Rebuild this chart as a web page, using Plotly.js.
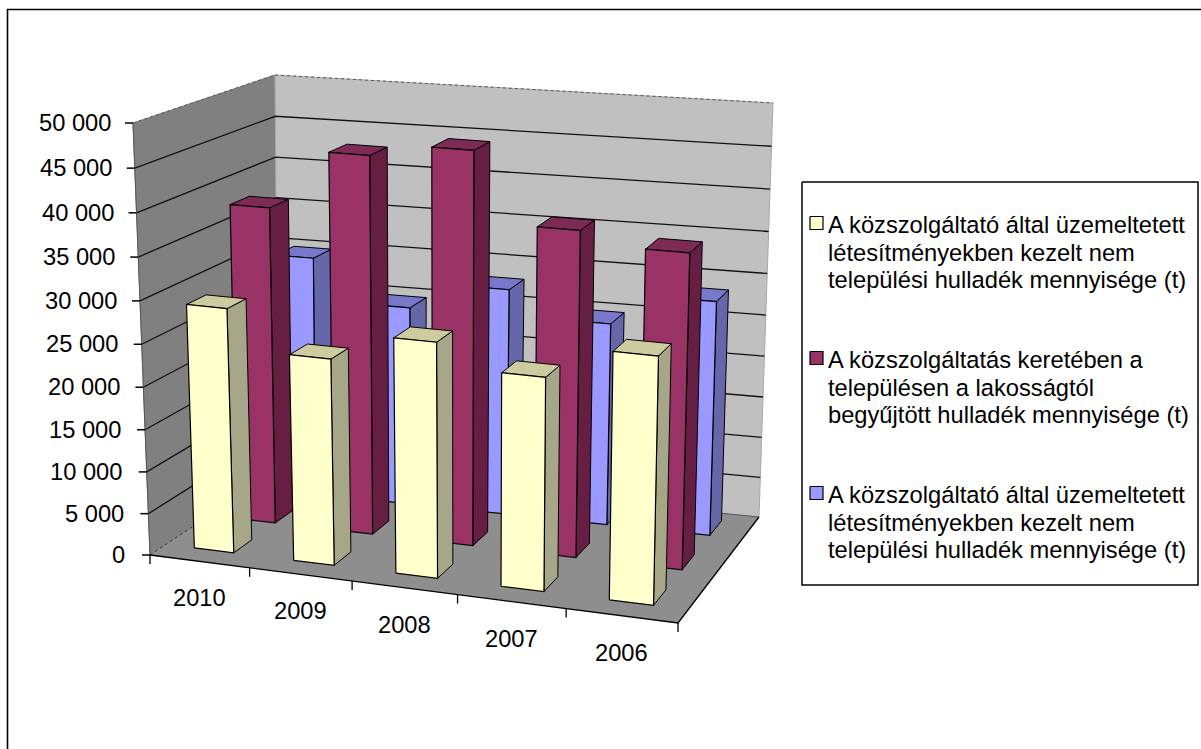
<!DOCTYPE html>
<html><head><meta charset="utf-8">
<script src="https://cdn.plot.ly/plotly-3.0.1.min.js"></script>
<style>html,body{margin:0;padding:0;background:#fff}#c{width:1201px;height:749px}</style>
</head><body><div id="c"></div>
<script>
// ---- data ----
const categories = ['2010','2009','2008','2007','2006'];
const seriesYellow = [29000,24400,27600,24900,28600];
const seriesRed    = [38200,45200,46700,38600,37100];
const seriesBlue   = [29700,24600,27800,24700,28400];
const yTicks = [0,5000,10000,15000,20000,25000,30000,35000,40000,45000,50000];
const yTickLabels = ['0','5 000','10 000','15 000','20 000','25 000','30 000','35 000','40 000','45 000','50 000'];
const legendYellow = ['A közszolgáltató által üzemeltetett','létesítményekben kezelt nem','települési hulladék mennyisége (t)'];
const legendRed    = ['A közszolgáltatás keretében a','településen a lakosságtól','begyűjtött hulladék mennyisége (t)'];
const legendBlue   = ['A közszolgáltató által üzemeltetett','létesítményekben kezelt nem','települési hulladék mennyisége (t)'];
// ---- styles ----
const yellow = {front:'#FFFFCC',side:'#A6A688',top:'#CCCC9E'};
const red    = {front:'#993366',side:'#661F42',top:'#7D2A55'};
const blue   = {front:'#9999FF',side:'#6666AA',top:'#7777CC'};
const FONT = 'Liberation Sans, Arial, sans-serif', FS = 23.7;
const YMAX = 50000;
// ---- scene projection (camera calibration) ----
function persp(t,r){return t/(t+r*(1-t));}
function quad(p0,p1,p2,p3){
  return (s,t)=>{
    const a=persp(s,1.075), b=persp(t,0.95);
    return [0,1].map(i=>(1-a)*(1-b)*p0[i]+a*(1-b)*p1[i]+a*b*p2[i]+(1-a)*b*p3[i]);
  };
}
const floorMap = quad([150,555],[678,623],[759,517],[278,470]);
const topMap   = quad([133,123],[688,172],[773,103],[275,75]);
const NU=categories.length, NV=3;
function P(u,v,val){
  const f=floorMap(u/NU,v/NV), c=topMap(u/NU,v/NV), t=val/YMAX;
  const k=persp(t,1.05);
  return [f[0]+(c[0]-f[0])*k, f[1]+(c[1]-f[1])*k];
}
const traces=[];
function poly(pts,fill,lineColor,w,dash){
  const xs=pts.map(p=>p[0]),ys=pts.map(p=>p[1]);
  if(fill){xs.push(xs[0]);ys.push(ys[0]);}
  traces.push({type:'scatter',mode:'lines',x:xs,y:ys,fill:fill?'toself':'none',fillcolor:fill||undefined,
    line:{color:lineColor||'rgba(0,0,0,0)',width:w===undefined?1:w,dash:dash||'solid'},hoverinfo:'skip',showlegend:false});
}
// frame (cropped: only top and left edges are in the picture)
poly([[7.5,749],[7.5,9.5],[1201,9.5]],null,'#000',1.6);
// walls and floor
poly([P(0,0,0),P(0,NV,0),P(0,NV,YMAX),P(0,0,YMAX)],'#808080','#808080',1);
poly([P(0,NV,0),P(NU,NV,0),P(NU,NV,YMAX),P(0,NV,YMAX)],'#C0C0C0','#A8A8A8',1);
poly([P(0,0,0),P(NU,0,0),P(NU,NV,0),P(0,NV,0)],'#8E8E8E',null,0);
yTicks.forEach(v=>{ if(v===0) return;
  const top=v===YMAX;
  poly([P(0,0,v),P(0,NV,v),P(NU,NV,v)],null,top?'#555':'#111',top?1:1.3,top?'dot':'solid');
});
poly([P(0,0,0),P(0,NV,0)],null,'#333',1,'dot');
poly([P(0,NV,0),P(NU,NV,0)],null,'#555',1);
poly([P(0,0,0),P(NU,0,0),P(NU,NV,0)],null,'#000',1.3);
poly([P(0,0,0),P(0,0,YMAX)],null,'#555',1);
// ticks
yTicks.forEach(v=>{const p=P(0,0,v);poly([[p[0]-8,p[1]],p],null,'#000',1.5);});
for(let k=0;k<=NU;k++){const p=P(k,0,0);poly([p,[p[0],p[1]+9]],null,'#000',1.3);}
// bars
const U0=.29,U1=.69,V0=.36,V1=.79;
function bar(k,s,val,c){
  const u0=k+U0,u1=k+U1,v0=s+V0,v1=s+V1;
  poly([P(u1,v0,0),P(u1,v1,0),P(u1,v1,val),P(u1,v0,val)],c.side,'#000',1);
  poly([P(u0,v0,val),P(u1,v0,val),P(u1,v1,val),P(u0,v1,val)],c.top,'#000',1);
  poly([P(u0,v0,0),P(u1,v0,0),P(u1,v0,val),P(u0,v0,val)],c.front,'#000',1.2);
}
[[seriesBlue,blue,2],[seriesRed,red,1],[seriesYellow,yellow,0]].forEach(([vals,c,s])=>{
  vals.forEach((val,k)=>bar(k,s,val,c));
});
// text
const ann=[];
function txt(x,y,t,anchor){ann.push({x,y,xref:'x',yref:'y',text:t,showarrow:false,xanchor:anchor,yanchor:'middle',
  font:{family:FONT,size:FS,color:'#000'},borderpad:0,borderwidth:0});}
yTicks.forEach((v,i)=>{const p=P(0,0,v);txt(p[0]-22-3*(1-v/YMAX),p[1],yTickLabels[i],'right');});
categories.forEach((c,k)=>{const p=P(k+.5,0,0);txt(p[0],p[1]+37,c,'center');});
// legend
poly([[802,182],[1198,182],[1198,585],[802,585]],'#FFFFFF','#000',1.5);
[[legendYellow,yellow,225],[legendRed,red,360],[legendBlue,blue,495]].forEach(([lines,c,y0])=>{
  poly([[810,y0-8.5],[823,y0-8.5],[823,y0+4.5],[810,y0+4.5]],c.front,'#000',1.2);
  lines.forEach((l,i)=>txt(828,y0+i*27.5,l,'left'));
});
Plotly.newPlot('c',traces,{width:1201,height:749,margin:{l:0,r:0,t:0,b:0},paper_bgcolor:'#fff',plot_bgcolor:'#fff',
  xaxis:{range:[0,1201],visible:false,fixedrange:true},yaxis:{range:[749,0],visible:false,fixedrange:true},
  annotations:ann,showlegend:false},{displayModeBar:false,staticPlot:true});
</script></body></html>
